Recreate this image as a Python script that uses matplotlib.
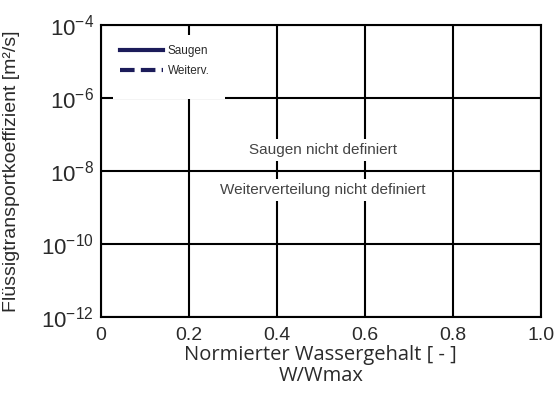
import numpy as np
import matplotlib
matplotlib.use("Agg")
from matplotlib import pyplot as plt
from matplotlib.patches import Rectangle

plt.rcParams["font.family"] = ["Liberation Sans", "DejaVu Sans"]
plt.rcParams["mathtext.fontset"] = "custom"
plt.rcParams["mathtext.rm"] = "Liberation Sans"
plt.rcParams["mathtext.it"] = "Liberation Sans"
plt.rcParams["mathtext.bf"] = "Liberation Sans:bold"

# chart content
x_ticks = [0, 0.2, 0.4, 0.6, 0.8, 1.0]
x_tick_labels = ["0", "0.2", "0.4", "0.6", "0.8", "1.0"]
y_exponents = [-4, -6, -8, -10, -12]
series_labels = ["Saugen", "Weiterv."]
series_styles = ["-", "--"]
# no measured data: both series are empty
saugen_x, saugen_y = [], []
weiterv_x, weiterv_y = [], []
notes = ["Saugen nicht definiert", "Weiterverteilung nicht definiert"]
note_pos = [(0.505, 10 ** -7.42), (0.505, 10 ** -8.52)]

text_col = "#2a2a2a"
line_col = "#1c1c5a"

fig = plt.figure(figsize=(5.57, 4.03), dpi=100)
ax = fig.add_axes([0.181, 0.213, 0.790, 0.725])

ax.plot(saugen_x, saugen_y, series_styles[0], color=line_col, lw=3, label=series_labels[0])
ax.plot(weiterv_x, weiterv_y, series_styles[1], color=line_col, lw=3, label=series_labels[1],
        dashes=(3.5, 1.5))

ax.set_yscale("log")
ax.set_xlim(0, 1.0)
ax.set_ylim(1e-12, 1e-4)
ax.set_xticks(x_ticks)
ax.set_xticklabels(x_tick_labels, fontsize=14, color=text_col)
ax.set_yticks([10.0 ** e for e in y_exponents])
ax.set_yticklabels([r"$10^{%d}$" % e for e in y_exponents], fontsize=16, color=text_col)
ax.minorticks_off()
ax.tick_params(axis="y", length=0, pad=5)
ax.tick_params(axis="x", length=0, pad=7)

ax.grid(True, color="black", lw=1.5)
ax.set_axisbelow(True)
for s in ax.spines.values():
    s.set_linewidth(1.5)

ax.set_xlabel("Normierter Wassergehalt [ - ]\nW/Wmax", fontsize=14.5, color=text_col,
              family=["Open Sans", "DejaVu Sans"], labelpad=1, linespacing=1.02)
ax.set_ylabel("Flüssigtransportkoeffizient [m²/s]", fontsize=14, color=text_col)
ax.yaxis.set_label_coords(-0.184, 0.5)

for txt, (xp, yp) in zip(notes, note_pos):
    ax.text(xp, yp, txt, ha="center", va="center", fontsize=11, color="#444444",
            bbox=dict(facecolor="white", edgecolor="none", pad=3), zorder=3)

# white background behind the legend, covering the grid
ax.add_patch(Rectangle((0.027, 0.747), 0.255, 0.219, transform=ax.transAxes,
                       facecolor="white", edgecolor="none", zorder=2.5))
leg = ax.legend(loc="upper left", bbox_to_anchor=(0.035, 0.942), fontsize=8.5, frameon=False,
                handlelength=3.65, handletextpad=0.4, borderpad=0.3, labelspacing=0.63,
                borderaxespad=0.0)
leg.set_zorder(4)
for t in leg.get_texts():
    t.set_color(text_col)

fig.savefig("out.png", dpi=100)
